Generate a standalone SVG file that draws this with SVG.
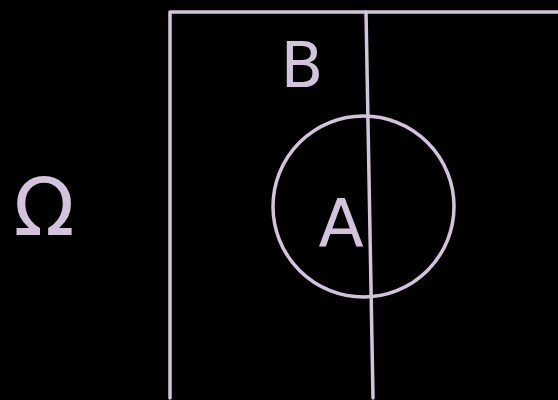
<svg xmlns="http://www.w3.org/2000/svg" width="558" height="400" viewBox="0 0 558 400">
<style>
.ln{fill:none;stroke:#d3c3dc;stroke-width:3.5;stroke-linecap:round;stroke-linejoin:round}
.lb{fill:#d3c3dc;font-family:"DejaVu Sans","Liberation Sans",sans-serif;text-anchor:middle}
</style>
<rect width="558" height="400" fill="#000"/>
<g id="omega"><text class="lb" x="44" y="235" font-size="80">Ω</text></g>
<g id="B-set">
<path class="ln" d="M170,398 L170,12 L558,12"/>
<path class="ln" d="M366,12 L373,398"/>
<text class="lb" x="302" y="87" font-size="62">B</text>
</g>
<g id="A-set">
<ellipse class="ln" cx="363.5" cy="206.5" rx="90.5" ry="90.5"/>
<text class="lb" x="341" y="246" font-size="66">A</text>
</g>
<g id="connectors"/>
</svg>
